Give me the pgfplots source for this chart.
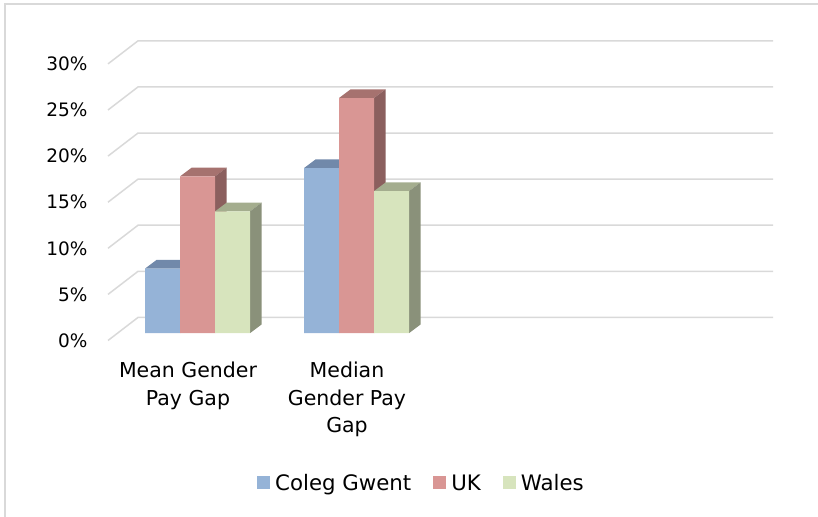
\documentclass[border=0pt]{standalone}
\usepackage{pgfplots}
\pgfplotsset{compat=1.18}
\usepackage{pgfplotstable}
\usepackage{fontspec}
\setmainfont{DejaVu Sans}

\definecolor{cgfront}{HTML}{95B3D7}
\definecolor{cgtop}{HTML}{7189AA}
\definecolor{cgside}{HTML}{6A80A0}
\definecolor{ukfront}{HTML}{D99694}
\definecolor{uktop}{HTML}{A6726F}
\definecolor{ukside}{HTML}{8B5F5E}
\definecolor{wafront}{HTML}{D7E4BD}
\definecolor{watop}{HTML}{A4AD8E}
\definecolor{waside}{HTML}{8A917A}
\definecolor{gridc}{HTML}{D9D9D9}

% x = centre of each category group (front face), values in percent
\pgfplotstableread{
x     cg    uk    wa
197.5 7.0   17.0  13.2
356.5 17.9  25.5  15.4
}\datatable

% top and side faces of a 3-D bar: centre x, shift, value, top colour, side colour
\newcommand\barfaces[5]{%
  \pgfmathsetmacro\xa{#1+#2-17.5}%
  \pgfmathsetmacro\xb{#1+#2+17.5}%
  \pgfmathsetmacro\xc{#1+#2-17.5+11.7}%
  \pgfmathsetmacro\xd{#1+#2+17.5+11.7}%
  \pgfmathsetmacro\yt{#3}%
  \pgfmathsetmacro\ytb{#3+0.95}%
  \edef\tmp{%
    \noexpand\addplot[fill=#4, draw=none, forget plot] coordinates {(\xa,\yt) (\xc,\ytb) (\xd,\ytb) (\xb,\yt)};
    \noexpand\addplot[fill=#5, draw=none, forget plot] coordinates {(\xb,0) (\xd,0.95) (\xd,\ytb) (\xb,\yt)};
  }\tmp}
\newcommand\barfromtable[5]{%
  \pgfplotstablegetelem{#1}{x}\of\datatable\let\bx\pgfplotsretval
  \pgfplotstablegetelem{#1}{#2}\of\datatable\let\bv\pgfplotsretval
  \barfaces{\bx}{#3}{\bv}{#4}{#5}}

\begin{document}
\begin{tikzpicture}
\useasboundingbox (0,0) rectangle (818bp,517bp);
\draw[gridc, line width=1.5bp] (5bp,-20bp) -- (5bp,513bp) -- (840bp,513bp);
\begin{axis}[
  at={(108bp,176.5bp)}, anchor=south west,
  scale only axis, width=665bp, height=299.65bp,
  xmin=108, xmax=773, ymin=-0.8, ymax=31.7,
  axis line style={draw=none},
  tick style={draw=none},
  major tick length=0pt,
  ytick={-0.8,4.2,9.2,14.2,19.2,24.2,29.2},
  yticklabels={0\%,5\%,10\%,15\%,20\%,25\%,30\%},
  xtick={188,347},
  xticklabels={{Mean Gender\\Pay Gap},{Median\\Gender Pay\\Gap}},
  xticklabel style={align=center, font=\fontsize{20.5bp}{27.5bp}\selectfont, yshift=-18bp},
  yticklabel style={font=\fontsize{18.5bp}{22bp}\selectfont, xshift=-17bp},
  clip=false,
  legend columns=3,
  legend cell align=left,
  legend style={at={(0.4714,-0.4755)}, anchor=center, draw=none, fill=none,
    font=\fontsize{21.3bp}{24bp}\selectfont,
    /tikz/every odd column/.append style={column sep=3bp},
    /tikz/every even column/.append style={column sep=20bp}},
]
% gridlines: front edge -> back wall
\addplot[gridc, line width=1.5bp, forget plot] coordinates {(108,-0.8) (138,1.7) (773,1.7)};
\addplot[gridc, line width=1.5bp, forget plot] coordinates {(108,4.2) (138,6.7) (773,6.7)};
\addplot[gridc, line width=1.5bp, forget plot] coordinates {(108,9.2) (138,11.7) (773,11.7)};
\addplot[gridc, line width=1.5bp, forget plot] coordinates {(108,14.2) (138,16.7) (773,16.7)};
\addplot[gridc, line width=1.5bp, forget plot] coordinates {(108,19.2) (138,21.7) (773,21.7)};
\addplot[gridc, line width=1.5bp, forget plot] coordinates {(108,24.2) (138,26.7) (773,26.7)};
\addplot[gridc, line width=1.5bp, forget plot] coordinates {(108,29.2) (138,31.7) (773,31.7)};
% 3-D faces
\barfromtable{0}{cg}{-35}{cgtop}{cgside}
\barfromtable{0}{uk}{0}{uktop}{ukside}
\barfromtable{0}{wa}{35}{watop}{waside}
\barfromtable{1}{cg}{-35}{cgtop}{cgside}
\barfromtable{1}{uk}{0}{uktop}{ukside}
\barfromtable{1}{wa}{35}{watop}{waside}
% front faces
\addplot[ybar, bar width=35, bar shift=-35, fill=cgfront, draw=none,
  legend image code/.code={\fill[cgfront] (0bp,-6.5bp) rectangle (13bp,6.5bp);}]
  table[x=x, y=cg]{\datatable};
\addplot[ybar, bar width=35, bar shift=0, fill=ukfront, draw=none,
  legend image code/.code={\fill[ukfront] (0bp,-6.5bp) rectangle (13bp,6.5bp);}]
  table[x=x, y=uk]{\datatable};
\addplot[ybar, bar width=35, bar shift=35, fill=wafront, draw=none,
  legend image code/.code={\fill[wafront] (0bp,-6.5bp) rectangle (13bp,6.5bp);}]
  table[x=x, y=wa]{\datatable};
\legend{Coleg Gwent, UK, Wales}
\end{axis}
\end{tikzpicture}
\end{document}
